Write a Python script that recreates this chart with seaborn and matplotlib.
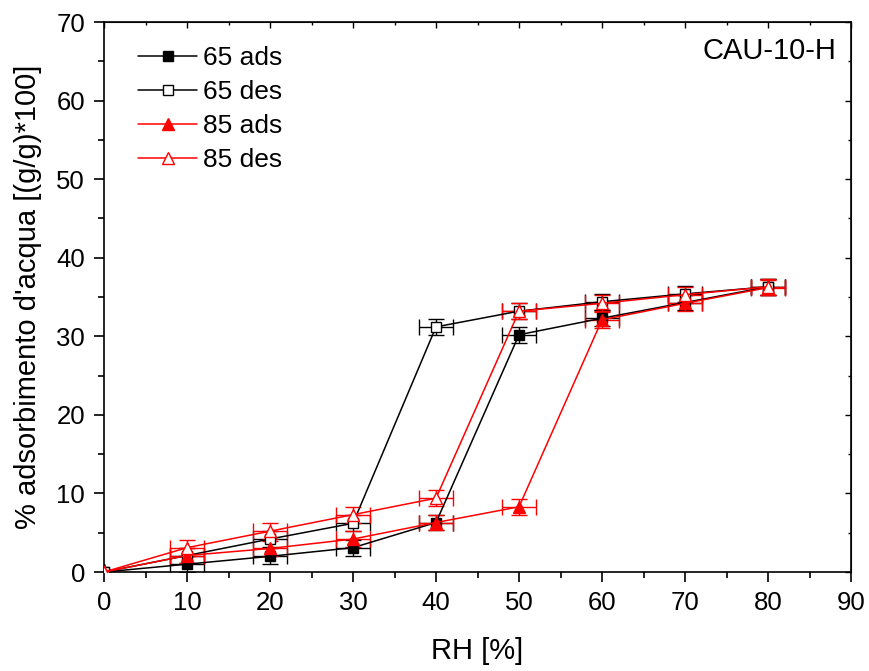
import matplotlib
matplotlib.use("Agg")
import matplotlib.pyplot as plt
import seaborn as sns
import pandas as pd
import numpy as np
from matplotlib.ticker import MultipleLocator

rh = [0, 10, 20, 30, 40, 50, 60, 70, 80]
ads65 = [0.0, 1.0, 2.0, 3.1, 6.3, 30.2, 32.3, 34.3, 36.3]
des65 = [0.0, 2.1, 4.2, 6.2, 31.2, 33.2, 34.4, 35.4, 36.3]
ads85 = [0.0, 2.1, 3.0, 4.2, 6.3, 8.3, 32.1, 34.2, 36.2]
des85 = [0.0, 3.1, 5.2, 7.3, 9.4, 33.2, 34.2, 35.3, 36.3]
yerr = [0.3, 1.0, 1.0, 1.0, 1.0, 1.0, 1.0, 1.0, 1.0]
xerr = [0.0, 2.0, 2.0, 2.0, 2.0, 2.0, 2.0, 2.0, 2.0]
labels = ["65 ads", "65 des", "85 ads", "85 des"]

sns.set_style("ticks")
plt.rcParams['font.family'] = ['Liberation Sans', 'DejaVu Sans']
plt.rcParams['text.color'] = 'black'
plt.rcParams['axes.labelcolor'] = 'black'
plt.rcParams['xtick.color'] = 'black'
plt.rcParams['ytick.color'] = 'black'

fig = plt.figure(figsize=(8.69, 6.71), dpi=100)
ax = fig.add_axes([0.1197, 0.1475, 0.8596, 0.8197])

series = [
    (labels[0], ads65, 'black', 's', 'black', 7),
    (labels[1], des65, 'black', 's', 'white', 7),
    (labels[2], ads85, 'red', '^', 'red', 9),
    (labels[3], des85, 'red', '^', 'white', 9),
]

for lab, vals, col, mk, mfc, ms in series:
    ax.errorbar(rh, vals, yerr=yerr, xerr=xerr, fmt='none', ecolor=col,
                elinewidth=1.0, capsize=5.5, capthick=1.0, zorder=2)
    df = pd.DataFrame({"RH": rh, "val": vals})
    sns.lineplot(data=df, x="RH", y="val", ax=ax, color=col, marker=mk,
                 markerfacecolor=mfc, markeredgecolor=col, markersize=ms,
                 markeredgewidth=1.0, linewidth=1.1, label=lab, zorder=3)

ax.set_xlim(0, 90)
ax.set_ylim(0, 70)
ax.xaxis.set_major_locator(MultipleLocator(10))
ax.xaxis.set_minor_locator(MultipleLocator(5))
ax.yaxis.set_major_locator(MultipleLocator(10))
ax.yaxis.set_minor_locator(MultipleLocator(5))
ax.tick_params(which='major', direction='out', length=7.2, width=1.2, labelsize=18.5, colors='black', pad=6.5)
ax.tick_params(which='minor', direction='out', length=4, width=1.2)
for s in ax.spines.values():
    s.set_linewidth(1.2)
    s.set_color('black')

# inward ticks on top and right
axt = ax.secondary_xaxis('top')
axt.xaxis.set_major_locator(MultipleLocator(10))
axt.xaxis.set_minor_locator(MultipleLocator(5))
axt.tick_params(which='major', direction='in', length=4, width=1.0, labeltop=False)
axt.tick_params(which='minor', direction='in', length=2.5, width=1.0)
axr = ax.secondary_yaxis('right')
axr.yaxis.set_major_locator(MultipleLocator(10))
axr.yaxis.set_minor_locator(MultipleLocator(5))
axr.tick_params(which='major', direction='in', length=4, width=1.0, labelright=False)
axr.tick_params(which='minor', direction='in', length=2.5, width=1.0)

ax.set_xlabel("RH [%]", fontsize=21, labelpad=16, color='black')
ax.set_ylabel("% adsorbimento d'acqua [(g/g)*100]", fontsize=21, labelpad=10, color='black')

ax.text(0.981, 0.932, "CAU-10-H", transform=ax.transAxes, ha='right', va='baseline',
        fontsize=21, color='black')

leg = ax.legend(loc='upper left', bbox_to_anchor=(0.0455, 0.956), frameon=False,
                fontsize=19, handlelength=2.24, labelspacing=0.38, handletextpad=0.23,
                borderaxespad=0, borderpad=0, labelcolor='black')

fig.savefig("out.png", dpi=100)
